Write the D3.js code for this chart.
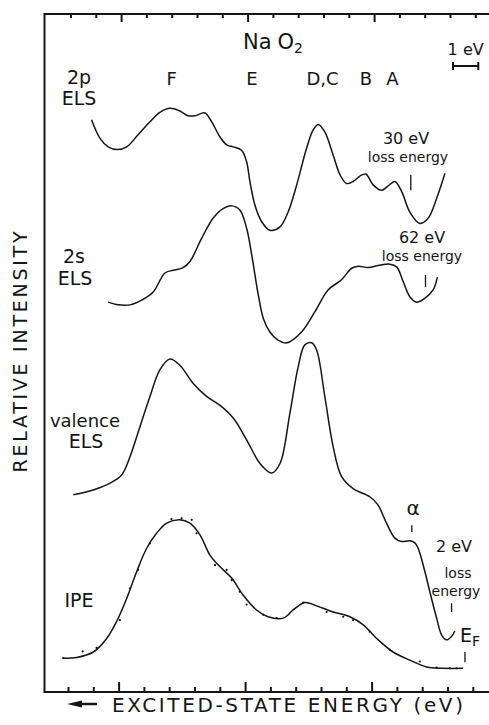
<!DOCTYPE html>
<html>
<head>
<meta charset="utf-8">
<script src="https://cdn.jsdelivr.net/npm/d3@7/dist/d3.min.js"></script>
<style>
    body { margin: 0; background: #fff; }
    text { font-family: "DejaVu Sans", sans-serif; fill: #151515; }
</style>
</head>
<body>
<svg id="Chart"></svg>
<script>
// energy in eV (grows to the left), intensity in stacked arbitrary units
let els2p = [
    [11.07, 84.4], [10.74, 81.7], [10.41, 80.4], [10.06, 80.0], [9.68, 80.4], [9.23, 82.2],
    [8.76, 84.1], [8.37, 85.5], [7.97, 86.1], [7.58, 85.7], [7.25, 85.0], [6.98, 85.0],
    [6.59, 85.4], [6.32, 84.1], [6.00, 81.9], [5.73, 80.7], [5.47, 80.4], [5.14, 79.9],
    [4.94, 78.2], [4.81, 75.3], [4.61, 71.8], [4.35, 69.4], [4.02, 68.1], [3.62, 68.6],
    [3.30, 70.8], [2.96, 74.8], [2.57, 80.2], [2.31, 82.9], [2.11, 83.7], [1.85, 82.6],
    [1.52, 79.2], [1.25, 76.3], [0.99, 75.0], [0.73, 75.3], [0.46, 76.1], [0.23, 76.4],
    [-0.06, 74.8], [-0.40, 74.0], [-0.64, 74.6], [-0.92, 75.3], [-1.19, 73.8], [-1.51, 70.8],
    [-1.91, 69.1], [-2.24, 69.9], [-2.57, 72.8], [-2.90, 76.5]
];

let els2s = [
    [10.41, 57.5], [10.02, 57.1], [9.55, 57.1], [9.09, 57.8], [8.63, 59.0], [8.17, 61.8],
    [7.84, 62.2], [7.45, 62.6], [7.18, 63.5], [6.72, 66.9], [6.26, 69.9], [5.87, 71.3],
    [5.53, 71.7], [5.21, 71.1], [4.94, 68.4], [4.74, 64.5], [4.48, 58.6], [4.28, 55.1],
    [4.02, 53.1], [3.70, 51.9], [3.35, 51.5], [2.77, 53.1], [2.24, 56.1], [1.72, 59.3],
    [1.19, 60.8], [0.79, 62.5], [0.53, 62.8], [0.13, 62.6], [-0.26, 62.9], [-0.72, 63.1],
    [-0.99, 62.7], [-1.25, 60.5], [-1.51, 58.3], [-1.78, 57.5], [-2.11, 58.1], [-2.43, 59.3],
    [-2.60, 61.2]
];

let elsValence = [
    [11.79, 29.1], [11.00, 29.8], [10.34, 30.8], [9.88, 32.0], [9.55, 34.7], [9.16, 39.1],
    [8.76, 43.6], [8.37, 47.5], [7.97, 49.1], [7.58, 48.2], [7.05, 45.5], [6.52, 43.6],
    [6.00, 42.3], [5.47, 40.4], [4.94, 37.2], [4.41, 33.7], [3.95, 32.3], [3.62, 33.7],
    [3.23, 41.1], [2.90, 48.0], [2.64, 51.2], [2.37, 51.5], [2.17, 50.4], [1.85, 43.6],
    [1.52, 36.2], [1.19, 31.8], [0.73, 30.0], [0.07, 28.8], [-0.25, 27.6], [-0.59, 24.9],
    [-0.92, 22.7], [-1.18, 22.2], [-1.51, 22.3], [-1.71, 22.0], [-1.84, 21.2], [-2.11, 17.7],
    [-2.30, 14.8], [-2.57, 10.9], [-2.77, 8.4], [-2.96, 7.7], [-3.16, 8.2], [-3.29, 9.0]
];

let ipeFit = [
    [12.19, 5.0], [11.66, 5.1], [11.00, 5.9], [10.47, 7.9], [10.08, 10.4], [9.68, 13.8],
    [9.29, 17.7], [8.89, 21.2], [8.50, 23.4], [8.10, 24.9], [7.58, 25.4], [7.18, 24.9],
    [6.79, 23.2], [6.39, 20.2], [6.00, 18.5], [5.53, 16.8], [5.08, 14.3], [4.55, 12.1],
    [4.09, 11.1], [3.49, 10.9], [3.10, 12.1], [2.64, 13.2], [2.17, 12.7], [1.52, 11.8],
    [0.86, 11.1], [0.33, 9.9], [-0.20, 7.9], [-0.85, 5.9], [-1.51, 4.7], [-2.17, 3.7],
    [-2.83, 3.5], [-3.62, 3.5]
];

let ipePoints = [
    [12.19, 5.0], [11.42, 6.0], [10.87, 6.5], [9.95, 10.6], [9.55, 15.3], [9.23, 18.0],
    [8.76, 21.9], [7.91, 25.5], [7.51, 25.6], [7.11, 25.4], [6.92, 23.4], [6.19, 18.7],
    [5.73, 18.0], [5.53, 16.5], [5.21, 14.8], [4.94, 12.9], [4.28, 11.4], [3.75, 10.9],
    [2.70, 13.2], [1.78, 11.8], [1.12, 11.1], [0.73, 10.6], [0.07, 8.9], [-0.72, 6.2],
    [-1.91, 4.5], [-2.57, 3.6], [-3.09, 3.5], [-3.36, 3.5]
];

let tickEnergies = [12, 11, 10, 9, 8, 7, 6, 5, 4, 3, 2, 1, 0, -1, -2, -3, -4];
let majorTickEnergies = [10, 5, 0];

let peakNames = ["F", "E", "D,C", "B", "A"];
let peakEnergies = [7.9, 4.73, 1.94, 0.22, -0.82];

// short vertical markers: energy, top and bottom intensity
let markers = [
    [-1.55, 76.3, 74.0],
    [-2.13, 61.5, 59.7],
    [-1.59, 24.6, 23.6],
    [-3.16, 13.1, 11.8],
    [-3.69, 5.9, 4.4]
];

function getConfig() {
    let width = 489;
    let height = 725;
    let frame = { left: 44.5, top: 14, bottom: 692, right: 489 };
    let container = d3.select("#Chart")
        .attr("width", width)
        .attr("height", height);
    return { width, height, frame, container };
}

function getScales() {
    let xScale = d3.scaleLinear()
        .domain([12, -4])
        .range([68, 472.8]);
    let yScale = d3.scaleLinear()
        .domain([0, 100])
        .range([692, 14]);
    return { xScale, yScale };
}

function drawFrame(scales, config) {
    let { xScale } = scales;
    let { container, frame } = config;

    container.append("path")
        .attr("d", `M${frame.right},${frame.top}H${frame.left}V${frame.bottom}H${frame.right}`)
        .attr("fill", "none")
        .attr("stroke", "#151515")
        .attr("stroke-width", 2);

    let axisBottom = d3.axisBottom(xScale)
        .tickValues(tickEnergies)
        .tickSize(-5)
        .tickFormat("");
    let bottom = container.append("g")
        .attr("transform", `translate(0,${frame.bottom})`)
        .call(axisBottom);

    let axisTop = d3.axisTop(xScale)
        .tickValues(tickEnergies)
        .tickSize(-4)
        .tickFormat("");
    let top = container.append("g")
        .attr("transform", `translate(2.5,${frame.top})`)
        .call(axisTop);

    [bottom, top].forEach(g => {
        g.select(".domain").remove();
        g.selectAll(".tick line")
            .attr("stroke", "#151515")
            .attr("stroke-width", 2);
    });
    bottom.selectAll(".tick line")
        .attr("y2", d => majorTickEnergies.includes(d) ? -10 : -5);
    top.selectAll(".tick line")
        .attr("y2", d => majorTickEnergies.includes(d) ? 8 : 4);
}

function drawCurves(scales, config) {
    let { xScale, yScale } = scales;
    let { container } = config;
    let line = d3.line()
        .x(d => xScale(d[0]))
        .y(d => yScale(d[1]))
        .curve(d3.curveCatmullRom.alpha(0.5));

    container.selectAll(".curve")
        .data([els2p, els2s, elsValence, ipeFit])
        .enter()
        .append("path")
        .attr("class", "curve")
        .attr("d", d => line(d))
        .attr("fill", "none")
        .attr("stroke", "#151515")
        .attr("stroke-width", 1.5);

    container.selectAll(".dot")
        .data(ipePoints)
        .enter()
        .append("circle")
        .attr("class", "dot")
        .attr("cx", d => xScale(d[0]))
        .attr("cy", d => yScale(d[1]))
        .attr("r", 1.1)
        .attr("fill", "#151515");

    container.selectAll(".marker")
        .data(markers)
        .enter()
        .append("line")
        .attr("class", "marker")
        .attr("x1", d => xScale(d[0]))
        .attr("x2", d => xScale(d[0]))
        .attr("y1", d => yScale(d[1]))
        .attr("y2", d => yScale(d[2]))
        .attr("stroke", "#151515")
        .attr("stroke-width", 1.3);
}

function addText(container, x, y, str, size, anchor) {
    return container.append("text")
        .attr("x", x)
        .attr("y", y)
        .attr("font-size", size)
        .attr("text-anchor", anchor || "middle")
        .text(str);
}

function drawLabels(scales, config) {
    let { xScale } = scales;
    let { container } = config;

    // compound name
    let title = container.append("text")
        .attr("x", 243)
        .attr("y", 49)
        .attr("font-size", 21);
    title.append("tspan").text("Na");
    title.append("tspan").attr("dx", 6).text("O");
    title.append("tspan").attr("font-size", 14).attr("dy", 4).text("2");

    // 1 eV scale bar
    let barX = 453;
    let barW = xScale(0) - xScale(1);
    addText(container, barX + barW / 2, 55, "1 eV", 16);
    container.append("path")
        .attr("d", `M${barX},62V70M${barX},66H${barX + barW}M${barX + barW},62V70`)
        .attr("stroke", "#151515")
        .attr("stroke-width", 2)
        .attr("fill", "none");

    container.selectAll(".peak")
        .data(peakNames)
        .enter()
        .append("text")
        .attr("class", "peak")
        .attr("x", (d, i) => xScale(peakEnergies[i]))
        .attr("y", 85)
        .attr("font-size", 18)
        .attr("text-anchor", "middle")
        .text(d => d);

    addText(container, 79, 84, "2p", 19);
    addText(container, 79, 105, "ELS", 19);
    addText(container, 74, 263, "2s", 19);
    addText(container, 75, 285, "ELS", 19);
    addText(container, 85, 427, "valence", 18);
    addText(container, 86, 448, "ELS", 19);
    addText(container, 79, 607, "IPE", 19);

    addText(container, 406, 144, "30 eV", 16);
    addText(container, 408, 162, "loss energy", 14);
    addText(container, 422, 243, "62 eV", 16);
    addText(container, 422, 261, "loss energy", 14);
    addText(container, 413, 515, "α", 20);
    addText(container, 454, 552, "2 eV", 16);
    addText(container, 458, 578, "loss", 14);
    addText(container, 456, 596, "energy", 14);

    let ef = container.append("text")
        .attr("x", 460)
        .attr("y", 642)
        .attr("font-size", 19);
    ef.append("tspan").text("E");
    ef.append("tspan").attr("font-size", 14).attr("dy", 4).text("F");

    container.append("text")
        .attr("transform", "translate(27,352) rotate(-90)")
        .attr("font-size", 19)
        .attr("text-anchor", "middle")
        .attr("textLength", 241)
        .attr("lengthAdjust", "spacing")
        .text("RELATIVE INTENSITY");

    container.append("text")
        .attr("x", 112)
        .attr("y", 712)
        .attr("font-size", 20)
        .attr("textLength", 351)
        .attr("lengthAdjust", "spacing")
        .text("EXCITED-STATE ENERGY (eV)");

    container.append("path")
        .attr("d", "M97,704H78")
        .attr("stroke", "#151515")
        .attr("stroke-width", 2.5);
    container.append("path")
        .attr("d", "M67,704L82,700.5L82,707.5Z")
        .attr("fill", "#151515");
}

function drawChart() {
    let config = getConfig();
    let scales = getScales();
    drawFrame(scales, config);
    drawCurves(scales, config);
    drawLabels(scales, config);
}

drawChart();
</script>
</body>
</html>
